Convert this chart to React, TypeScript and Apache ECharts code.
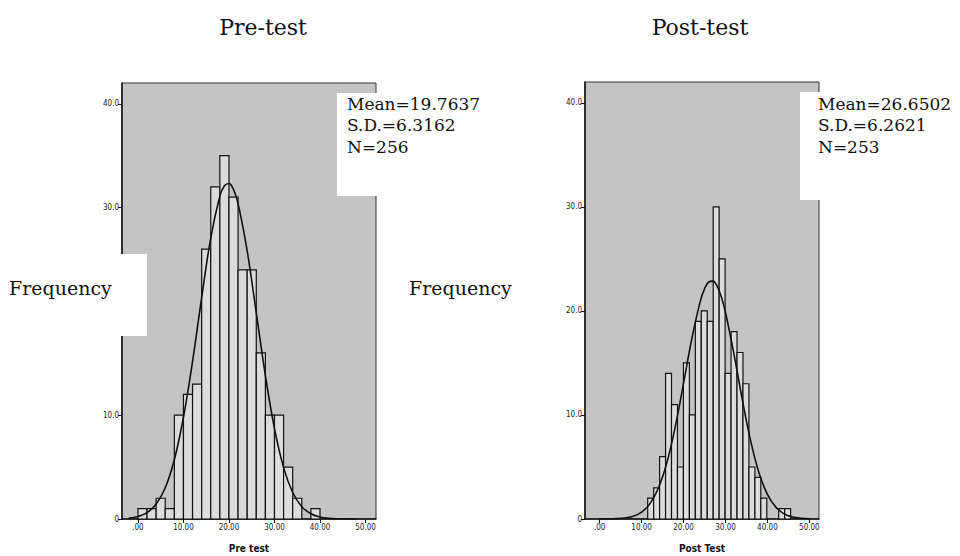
import React, { useEffect, useRef } from "react";
import * as echarts from "echarts";

// ---------- Data ----------
const preBinLower = [0, 2, 4, 6, 8, 10, 12, 14, 16, 18, 20, 22, 24, 26, 28, 30, 32, 34, 36, 38];
const preBinWidth = 2;
const preCounts = [1, 1, 2, 1, 10, 12, 13, 26, 32, 35, 31, 24, 24, 16, 10, 10, 5, 2, 0, 1];

const postBinStart = 11.45;
const postBinWidth = 1.42;
const postCounts = [2, 3, 6, 14, 11, 5, 15, 10, 19, 20, 19, 30, 25, 14, 18, 16, 13, 5, 4, 2, 0, 0, 1, 1];

// fitted normal curves
const preCurveX = [-2, 0, 2, 4, 6, 8, 10, 12, 14, 16, 18, 19, 20, 21, 22, 24, 26, 28, 30, 32, 34, 36, 38, 40, 42, 44, 46, 48];
const preCurveY = [0.085, 0.24, 0.62, 1.44, 3.01, 5.71, 9.8, 15.19, 21.33, 27.08, 31.11, 32.1, 32.32, 31.73, 30.38, 25.83, 19.86, 13.82, 8.7, 4.95, 2.55, 1.19, 0.5, 0.19, 0.066, 0.02, 0.006, 0.001];
const postCurveX = [0, 2, 4, 6, 8, 10, 12, 14, 16, 18, 20, 22, 24, 25, 26, 27, 28, 29, 30, 32, 34, 36, 38, 40, 42, 44, 46, 48, 50];
const postCurveY = [0.003, 0.01, 0.033, 0.1, 0.27, 0.67, 1.48, 2.98, 5.39, 8.82, 13.03, 17.38, 20.94, 22.12, 22.78, 22.86, 22.37, 21.35, 19.85, 15.9, 11.5, 7.51, 4.43, 2.36, 1.14, 0.49, 0.19, 0.07, 0.022];

const xTickValues = [0, 10, 20, 30, 40, 50];
const yTickValues = [0, 10, 20, 30, 40];

const preStats = ["Mean=19.7637", "S.D.=6.3162", "N=256"];
const postStats = ["Mean=26.6502", "S.D.=6.2621", "N=253"];

// ---------- helpers ----------
const tickFont = "DejaVu Sans Condensed";
const serif = "DejaVu Serif";

function barData(lower: number[], width: number, counts: number[]) {
  return counts.map((c, i) => [lower[i], lower[i] + width, c]);
}

const postBinLower = postCounts.map((_, i) => postBinStart + i * postBinWidth);

function renderBar(params: any, api: any) {
  const x0 = api.value(0);
  const x1 = api.value(1);
  const c = api.value(2);
  if (!c) return null;
  const p0 = api.coord([x0, c]);
  const p1 = api.coord([x1, 0]);
  return {
    type: "rect",
    shape: { x: p0[0], y: p0[1], width: p1[0] - p0[0], height: p1[1] - p0[1] },
    style: { fill: "#dcdcdc", stroke: "#111", lineWidth: 1.2 },
  };
}

function xAxis(gridIndex: number, name: string) {
  return {
    type: "value",
    gridIndex,
    min: -3.5,
    max: 52.3,
    name,
    nameLocation: "middle",
    nameGap: 24,
    nameTextStyle: { fontFamily: tickFont, fontSize: 10, fontWeight: "bold", color: "#111" },
    splitLine: { show: false },
    axisLine: { show: true, onZero: false, lineStyle: { color: "#111", width: 1.5 } },
    axisTick: { show: true, length: 4, customValues: xTickValues, lineStyle: { color: "#111" } },
    axisLabel: {
      customValues: xTickValues,
      fontFamily: tickFont,
      fontSize: 8,
      color: "#222",
      margin: 4,
      formatter: (v: number) => (v === 0 ? ".00" : v.toFixed(2)),
    },
  };
}

function yAxis(gridIndex: number) {
  return {
    type: "value",
    gridIndex,
    min: 0,
    max: 42,
    splitLine: { show: false },
    axisLine: { show: true, onZero: false, lineStyle: { color: "#111", width: 1.5 } },
    axisTick: { show: true, length: 4, customValues: yTickValues, lineStyle: { color: "#111" } },
    axisLabel: {
      customValues: yTickValues,
      fontFamily: tickFont,
      fontSize: 8,
      color: "#222",
      margin: 3,
      formatter: (v: number) => (v === 0 ? "0" : v.toFixed(1)),
    },
  };
}

export default function App() {
  const ref = useRef<HTMLDivElement>(null);
  useEffect(() => {
    const chart = echarts.init(ref.current!, null, { renderer: "svg" });
    const option: any = {
      animation: false,
      backgroundColor: "#ffffff",
      grid: [
        {
          left: 122, top: 83, width: 254, height: 436,
          show: true, backgroundColor: "#c4c4c4", borderColor: "#333", borderWidth: 1,
          containLabel: false, outerBoundsMode: "none",
        },
        {
          left: 585, top: 82, width: 234, height: 437,
          show: true, backgroundColor: "#c4c4c4", borderColor: "#333", borderWidth: 1,
          containLabel: false, outerBoundsMode: "none",
        },
      ],
      xAxis: [xAxis(0, "Pre test"), xAxis(1, "Post Test")],
      yAxis: [yAxis(0), yAxis(1)],
      series: [
        {
          type: "custom",
          xAxisIndex: 0,
          yAxisIndex: 0,
          renderItem: renderBar,
          encode: { x: [0, 1], y: 2 },
          data: barData(preBinLower, preBinWidth, preCounts),
          z: 2,
        },
        {
          type: "custom",
          xAxisIndex: 1,
          yAxisIndex: 1,
          renderItem: renderBar,
          encode: { x: [0, 1], y: 2 },
          data: barData(postBinLower, postBinWidth, postCounts),
          z: 2,
        },
        {
          type: "line",
          xAxisIndex: 0,
          yAxisIndex: 0,
          data: preCurveX.map((x, i) => [x, preCurveY[i]]),
          smooth: 0.4,
          showSymbol: false,
          lineStyle: { color: "#111", width: 1.6 },
          z: 3,
        },
        {
          type: "line",
          xAxisIndex: 1,
          yAxisIndex: 1,
          data: postCurveX.map((x, i) => [x, postCurveY[i]]),
          smooth: 0.4,
          showSymbol: false,
          lineStyle: { color: "#111", width: 1.6 },
          z: 3,
        },
      ],
      graphic: [
        // white paste-up patch behind left "Frequency"
        { type: "rect", z: 100, shape: { x: 0, y: 254, width: 147, height: 82 }, style: { fill: "#ffffff" } },
        // stats boxes
        { type: "rect", z: 100, shape: { x: 337, y: 93, width: 165, height: 103 }, style: { fill: "#ffffff" } },
        { type: "rect", z: 100, shape: { x: 800, y: 92, width: 160, height: 108 }, style: { fill: "#ffffff" } },
        {
          type: "text", z: 101, x: 347, y: 93,
          style: { text: preStats.join("\n"), fontFamily: serif, fontSize: 17, lineHeight: 21.5, fill: "#111", align: "left", verticalAlign: "top" },
        },
        {
          type: "text", z: 101, x: 818, y: 93,
          style: { text: postStats.join("\n"), fontFamily: serif, fontSize: 17, lineHeight: 21.5, fill: "#111", align: "left", verticalAlign: "top" },
        },
        {
          type: "text", z: 101, x: 263, y: 27,
          style: { text: "Pre-test", fontFamily: serif, fontSize: 22, fill: "#111", align: "center", verticalAlign: "middle" },
        },
        {
          type: "text", z: 101, x: 700, y: 27,
          style: { text: "Post-test", fontFamily: serif, fontSize: 22, fill: "#111", align: "center", verticalAlign: "middle" },
        },
        {
          type: "text", z: 101, x: 9, y: 288,
          style: { text: "Frequency", fontFamily: serif, fontSize: 19, fill: "#111", align: "left", verticalAlign: "middle" },
        },
        {
          type: "text", z: 101, x: 409, y: 288,
          style: { text: "Frequency", fontFamily: serif, fontSize: 19, fill: "#111", align: "left", verticalAlign: "middle" },
        },
      ],
    };
    chart.setOption(option);
    return () => chart.dispose();
  }, []);
  return (
    <div
      ref={ref}
      style={{ position: "fixed", left: 0, top: 0, width: 960, height: 556, background: "#fff" }}
    />
  );
}
